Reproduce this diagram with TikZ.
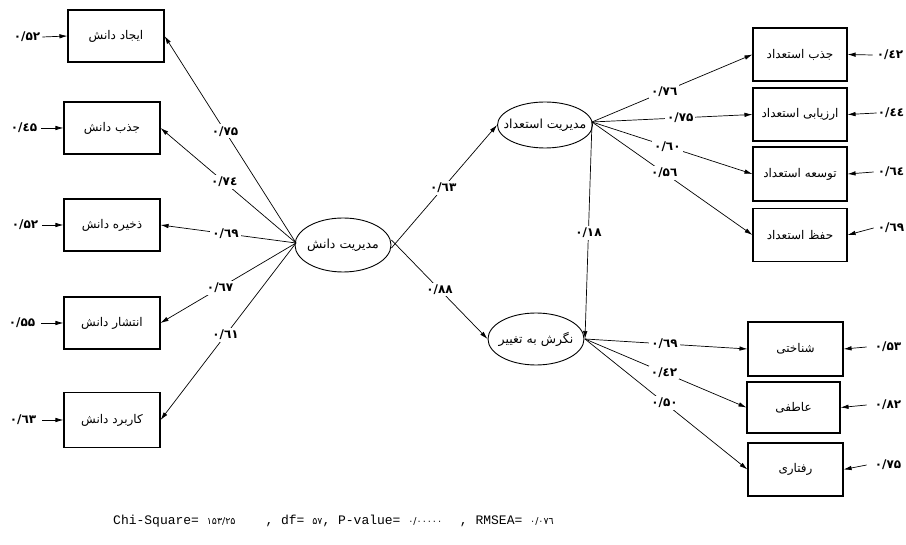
\documentclass[tikz,border=0pt]{standalone}
\usepackage{fontspec}
\usetikzlibrary{arrows.meta,shapes.geometric}
\TeXXeTstate=1
\newfontfamily\fa[Script=Arabic]{DejaVu Sans}
\newfontfamily\mono{Liberation Mono}
\makeatletter
\newcommand\sep[1]{\sep@#1\relax}
\def\sep@#1{\ifx#1\relax\else#1\kern0pt\expandafter\sep@\fi}
\makeatother
\newcommand{\fd}[1]{{\fa\fontsize{9.5}{10}\selectfont\sep{#1}}}
\begin{document}
\begin{tikzpicture}[x=1pt,y=-1pt,
 box/.style={draw,line width=1.1pt,minimum width=96pt,minimum height=52pt,inner sep=0pt,font=\fa\fontsize{12}{13}\selectfont},
 lat/.style={draw,ellipse,line width=0.9pt,inner sep=0pt},
 lattext/.style={inner sep=0pt,font=\fa\fontsize{12.5}{13}\selectfont},
 arr/.style={-{Latex[length=8pt,width=4.5pt]},line width=0.7pt},
 lab/.style={fill=white,inner sep=2pt,font=\fa\bfseries\fontsize{12}{13}\selectfont},
 err/.style={inner sep=0pt,font=\fa\bfseries\fontsize{12}{13}\selectfont},
]
\useasboundingbox[fill=white] (0,0) rectangle (906,545);

% left boxes
\node[box] (b1) at (116,36) {\beginR ایجاد دانش\endR};
\node[box] (b2) at (112,128) {\beginR جذب دانش\endR};
\node[box] (b3) at (112,225) {\beginR ذخیره دانش\endR};
\node[box] (b4) at (112,323) {\beginR انتشار دانش\endR};
\node[box,minimum height=55pt] (b5) at (112,420) {\beginR کاربرد دانش\endR};

% latent
\node[lat,minimum width=96pt,minimum height=54pt] (km) at (343,245) {};
\node[lattext] (kmt) at (km) {\beginR مدیریت دانش\endR};
\node[lat,minimum width=95pt,minimum height=46pt] (tm) at (545,125) {};
\node[lattext] (tmt) at (tm) {\beginR مدیریت استعداد\endR};
\node[lat,minimum width=96pt,minimum height=52pt] (ac) at (536,339) {};
\node[lattext] (act) at (ac) {\beginR نگرش به تغییر\endR};

% right boxes
\node[box,minimum width=94pt,minimum height=53pt] (r1) at (800,54.5) {\beginR جذب استعداد\endR};
\node[box,minimum width=94pt,minimum height=53pt] (r2) at (800,114.5) {\beginR ارزیابی استعداد\endR};
\node[box,minimum width=94pt,minimum height=54pt] (r3) at (800,174) {\beginR توسعه استعداد\endR};
\node[box,minimum width=94pt,minimum height=53pt] (r4) at (800,235) {\beginR حفظ استعداد\endR};
\node[box,minimum width=95pt,minimum height=54pt] (s1) at (795.5,349) {\beginR شناختی\endR};
\node[box,minimum width=93pt,minimum height=51pt] (s2) at (793.5,407.5) {\beginR عاطفی\endR};
\node[box,minimum width=95pt,minimum height=53pt] (s3) at (795.5,469.5) {\beginR رفتاری\endR};

% coordinates of convergence
\coordinate (kw) at (296,243);
\coordinate (te) at (592,122);
\coordinate (ae) at (585,339);

% left loadings
\draw[arr] (kw) -- node[lab,pos=0.54] {\sep{۰/۷۵}} (b1.east);
\draw[arr] (kw) -- node[lab,pos=0.53] {\sep{۰/۷٤}} (b2.east);
\draw[arr] (kw) -- node[lab,pos=0.52] {\sep{۰/٦۹}} (b3.east);
\draw[arr] (kw) -- node[lab,pos=0.56] {\sep{۰/٦۷}} (b4.east);
\draw[arr] (kw) -- node[lab,pos=0.52] {\sep{۰/٦۱}} (b5.east);

% structural
\draw[arr] ([yshift=-3pt]km.east) -- node[lab,pos=0.49] {\sep{۰/٦۳}} (tm.west);
\draw[arr] ([yshift=5pt]km.east) -- node[lab,pos=0.5] {\sep{۰/۸۸}} (ac.west);
\draw[arr] (te) -- node[lab,pos=0.51] {\sep{۰/۱۸}} (ae);

% right loadings
\draw[arr] (te) -- node[lab,pos=0.45] {\sep{۰/۷٦}} (r1.west);
\draw[arr] (te) -- node[lab,pos=0.55] {\sep{۰/۷۵}} (r2.west);
\draw[arr] (te) -- node[lab,pos=0.47] {\sep{۰/٦۰}} (r3.west);
\draw[arr] (te) -- node[lab,pos=0.45] {\sep{۰/۵٦}} (r4.west);
\draw[arr] (ae) -- node[lab,pos=0.49] {\sep{۰/٦۹}} (s1.west);
\draw[arr] (ae) -- node[lab,pos=0.49] {\sep{۰/٤۲}} (s2.west);
\draw[arr] (ae) -- node[lab,pos=0.49] {\sep{۰/۵۰}} (s3.west);

% errors left
\node[err] (el1) at (27,37) {\sep{۰/۵۲}};
\node[err] (el2) at (24,128) {\sep{۰/٤۵}};
\node[err] (el3) at (25,225) {\sep{۰/۵۲}};
\node[err] (el4) at (22,323) {\sep{۰/۵۵}};
\node[err] (el5) at (23,420) {\sep{۰/٦۳}};
\draw[arr] ([xshift=2pt]el1.east) -- (b1.west);
\draw[arr] ([xshift=4pt]el2.east) -- (b2.west);
\draw[arr] ([xshift=4pt]el3.east) -- (b3.west);
\draw[arr] ([xshift=6pt]el4.east) -- (b4.west);
\draw[arr] ([xshift=6pt]el5.east) -- (b5.west);

% errors right
\node[err] (er1) at (890,55) {\sep{۰/٤۲}};
\node[err] (er2) at (891,113) {\sep{۰/٤٤}};
\node[err] (er3) at (891,172) {\sep{۰/٦٤}};
\node[err] (er4) at (891,228) {\sep{۰/٦۹}};
\node[err] (er5) at (888,347) {\sep{۰/۵۳}};
\node[err] (er6) at (888,405) {\sep{۰/۸۲}};
\node[err] (er7) at (888,465) {\sep{۰/۷۵}};
\draw[arr] ([xshift=-4pt]er1.west) -- (r1.east);
\draw[arr] ([xshift=-1pt]er2.west) -- (r2.east);
\draw[arr] ([xshift=-4pt]er3.west) -- (r3.east);
\draw[arr] ([xshift=-4pt]er4.west) -- (r4.east);
\draw[arr] ([xshift=-8pt]er5.west) -- (s1.east);
\draw[arr] ([xshift=-8pt]er6.west) -- (s2.east);
\draw[arr] ([xshift=-8pt]er7.west) -- (s3.east);

% fit statistics
\node[anchor=west,inner sep=0pt,font=\mono\fontsize{13}{14}\selectfont] (fit) at (113,521)
 {Chi-Square= \fd{۱۵۳/۲۵}\hspace{30pt}, df= \fd{۵۷}, P-value= \fd{۰/۰۰۰۰۰}\hspace{10pt} , RMSEA= \fd{۰/۰۷٦}};
\end{tikzpicture}
\end{document}
